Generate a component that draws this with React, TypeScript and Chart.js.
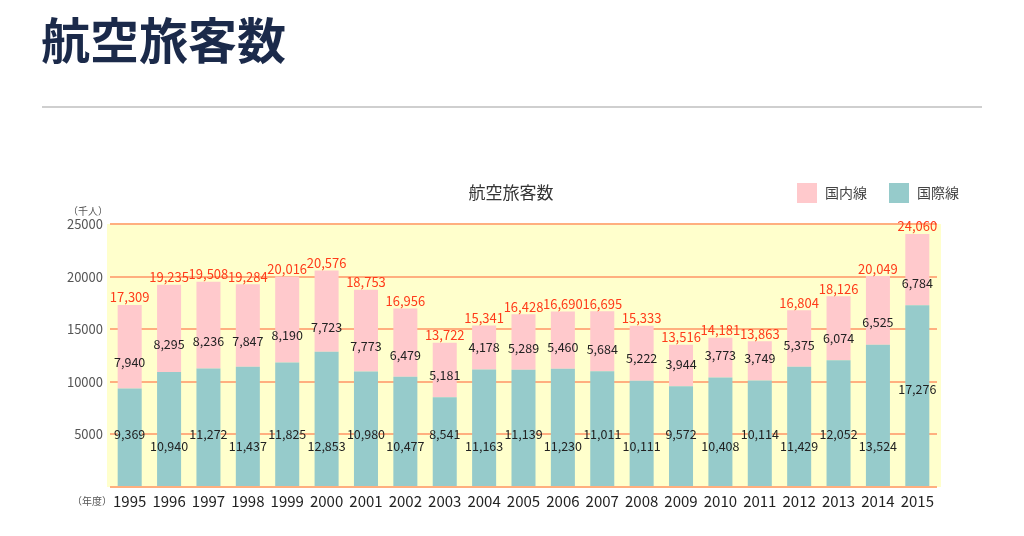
import React, { useEffect, useRef } from "react";
import { Chart, registerables } from "chart.js";

Chart.register(...registerables);

const years = ["1995","1996","1997","1998","1999","2000","2001","2002","2003","2004","2005","2006","2007","2008","2009","2010","2011","2012","2013","2014","2015"];
const intl = [9369,10940,11272,11437,11825,12853,10980,10477,8541,11163,11139,11230,11011,10111,9572,10408,10114,11429,12052,13524,17276];
const dom = [7940,8295,8236,7847,8190,7723,7773,6479,5181,4178,5289,5460,5684,5222,3944,3773,3749,5375,6074,6525,6784];
const totals = [17309,19235,19508,19284,20016,20576,18753,16956,13722,15341,16428,16690,16695,15333,13516,14181,13863,16804,18126,20049,24060];
const yTicks = [0, 5000, 10000, 15000, 20000, 25000];

const FONT = '"Noto Sans CJK JP", "Noto Sans", sans-serif';
const PINK = "#ffc9cc";
const TEAL = "#96cbcb";
const fmt = (v: number) => v.toLocaleString("en-US");

const decor = {
  id: "decor",
  beforeDraw(chart: any) {
    const { ctx, chartArea: a } = chart;
    ctx.save();
    ctx.fillStyle = "#ffffcc";
    ctx.fillRect(a.left - 3, a.top, a.right - a.left + 7, a.bottom - a.top);
    ctx.restore();
  },
  afterDatasetsDraw(chart: any) {
    const { ctx } = chart;
    const y = chart.scales.y;
    const m0 = chart.getDatasetMeta(0);
    const m1 = chart.getDatasetMeta(1);
    ctx.save();
    ctx.textAlign = "center";
    ctx.textBaseline = "middle";
    years.forEach((_, i) => {
      const b0 = m0.data[i];
      const b1 = m1.data[i];
      const x = b0.x;
      ctx.font = `12.5px ${FONT}`;
      ctx.fillStyle = "#222";
      let ty: number;
      if (intl[i] > 15000) ty = (b0.y + b0.base) / 2 - 6;
      else ty = y.getPixelForValue(5000) + (i % 2 ? 12 : 0);
      ctx.fillText(fmt(intl[i]), x, ty);
      const center = (b1.y + b1.base) / 2;
      const py = Math.min(center + 16, b0.y - 22);
      ctx.fillText(fmt(dom[i]), x, py);
      ctx.font = `13px ${FONT}`;
      ctx.fillStyle = "#ff3b1a";
      ctx.textBaseline = "bottom";
      ctx.fillText(fmt(totals[i]), x, y.getPixelForValue(totals[i]) - 1);
      ctx.textBaseline = "middle";
    });
    ctx.font = `10px ${FONT}`;
    ctx.fillStyle = "#555";
    ctx.fillText("（千人）", 88, 211);
    ctx.fillText("（年度）", 92, 501);
    ctx.font = `17px ${FONT}`;
    ctx.fillStyle = "#333";
    ctx.fillText("航空旅客数", 511, 193);
    ctx.font = `14px ${FONT}`;
    ctx.textAlign = "left";
    ctx.fillStyle = PINK;
    ctx.fillRect(797, 183, 20, 20);
    ctx.fillStyle = "#444";
    ctx.fillText("国内線", 825, 193);
    ctx.fillStyle = TEAL;
    ctx.fillRect(889, 183, 20, 20);
    ctx.fillStyle = "#444";
    ctx.fillText("国際線", 917, 193);
    ctx.restore();
  },
};

export default function App() {
  const ref = useRef<HTMLCanvasElement>(null);
  useEffect(() => {
    const chart = new Chart(ref.current!, {
      type: "bar",
      data: {
        labels: years,
        datasets: [
          { label: "国際線", data: intl, backgroundColor: TEAL },
          { label: "国内線", data: dom, backgroundColor: PINK },
        ],
      },
      options: {
        animation: false,
        responsive: false,
        layout: { padding: { left: 0, right: 87, top: 224, bottom: 19 } },
        datasets: { bar: { barPercentage: 0.61, categoryPercentage: 1 } },
        plugins: { legend: { display: false }, title: { display: false }, tooltip: { enabled: false } },
        scales: {
          x: {
            stacked: true,
            grid: { display: false },
            border: { display: false },
            ticks: { color: "#222", font: { family: FONT, size: 15 }, padding: -3, maxRotation: 0 },
            afterFit: (s: any) => { s.height = 30; },
          },
          y: {
            stacked: true,
            min: 0,
            max: 25000,
            afterBuildTicks: (s: any) => { s.ticks = yTicks.map((v) => ({ value: v })); },
            grid: { color: "#ffaf7f", lineWidth: 2, drawTicks: false },
            border: { display: false },
            ticks: {
              color: "#555",
              font: { family: FONT, size: 13 },
              padding: 7,
              callback: (v: any) => (v === 0 ? "" : String(v)),
            },
            afterFit: (s: any) => { s.width = 110; },
          },
        },
      },
      plugins: [decor],
    });
    return () => chart.destroy();
  }, []);
  return (
    <div style={{ position: "absolute", left: 0, top: 0, width: 1024, height: 536, background: "#fff" }}>
      <div style={{ position: "absolute", left: 41, top: 13, fontFamily: FONT, fontWeight: 700, fontSize: 49, lineHeight: 1, color: "#1b2a4a" }}>航空旅客数</div>
      <div style={{ position: "absolute", left: 42, top: 106, width: 940, height: 2, background: "#cfcfcf" }} />
      <canvas ref={ref} width={1024} height={536} style={{ position: "absolute", left: 0, top: 0 }} />
    </div>
  );
}
